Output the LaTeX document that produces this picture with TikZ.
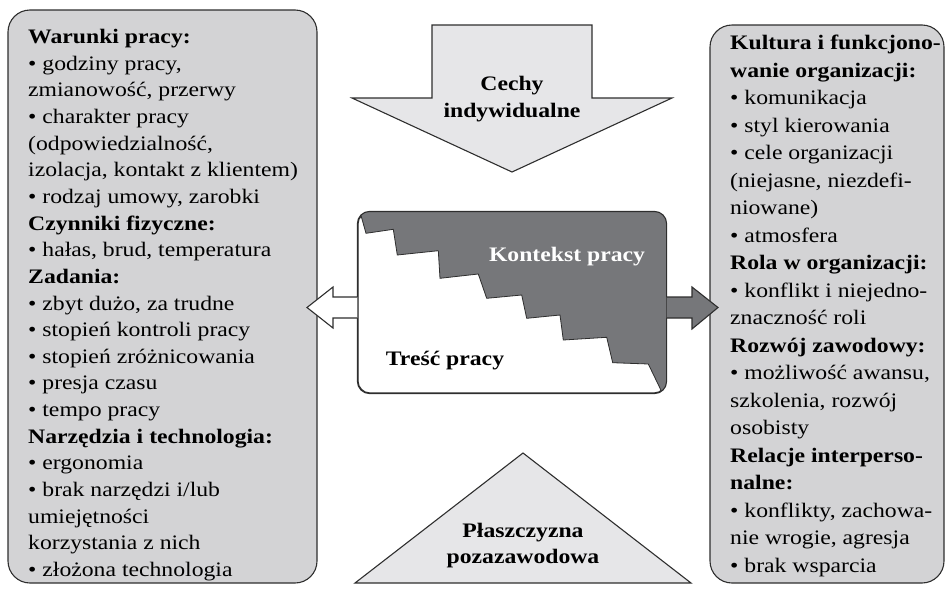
\documentclass[tikz,border=0pt]{standalone}
\usepackage{fontspec}
\setmainfont{Liberation Serif}[FakeStretch=1.15]
\definecolor{boxgray}{HTML}{D3D3D5}
\definecolor{palegray}{HTML}{E6E6E8}
\definecolor{darkstep}{HTML}{76777A}
\definecolor{linegray}{HTML}{2E2E2E}
\newcommand\diagfont{\fontsize{20.6}{26.4}\selectfont}
\newcommand\leftlistfont{\fontsize{20.6}{26.65}\selectfont}
\newcommand\rightlistfont{\fontsize{20.6}{27.5}\selectfont}
\begin{document}
\begin{tikzpicture}[x=1pt,y=-1pt,
  outline/.style={draw=linegray, line width=1.1pt, line join=miter},
  sidebox/.style={outline, fill=boxgray, rounded corners=22pt, inner sep=0pt},
  listtext/.style={anchor=north west, inner sep=0pt, align=left},
  title/.style={inner sep=0pt, align=center, font=\diagfont\bfseries}]
\useasboundingbox (0,0) rectangle (950,592);

% side panels
\node[sidebox, minimum width=309pt, minimum height=573pt] (leftbox) at (162.5,296.5) {};
\node[sidebox, minimum width=234pt, minimum height=558pt] (rightbox) at (827,304) {};

% downward arrow: individual traits
\filldraw[outline, fill=palegray] (432,25) -- (592,25) -- (592,98) -- (672,98)
  -- (512,172) -- (352,98) -- (432,98) -- cycle;
\node[title, anchor=north] (indiv) at (512,76.5) {Cechy\\indywidualne};

% triangle: life outside work
\filldraw[outline, fill=palegray] (523,453) -- (691,583) -- (355,583) -- cycle;
\node[title, anchor=north] (outside) at (523,523) {Płaszczyzna\\pozazawodowa};

% central box with the stepped boundary between content and context
\node[outline, fill=white, rounded corners=12pt, inner sep=0pt,
      minimum width=308pt, minimum height=181pt] (work) at (512,302.5) {};
\begin{scope}
  \clip[rounded corners=12pt] (work.north west) rectangle (work.south east);
  \fill[darkstep] (360,212) -- (366,233.3) -- (393.3,229.3) -- (397.3,255)
    -- (438.3,250.7) -- (440,278.3) -- (478.3,274) -- (486.7,298.3)
    -- (521.7,295) -- (526.7,318.3) -- (560,315) -- (563.3,340)
    -- (606.7,337.3) -- (612.7,362.7) -- (648.3,364) -- (661.7,391.7)
    -- (672,402) -- (672,205) -- (360,205) -- cycle;
  \draw[linegray, line width=0.8pt] (360,212) -- (366,233.3) -- (393.3,229.3) -- (397.3,255)
    -- (438.3,250.7) -- (440,278.3) -- (478.3,274) -- (486.7,298.3)
    -- (521.7,295) -- (526.7,318.3) -- (560,315) -- (563.3,340)
    -- (606.7,337.3) -- (612.7,362.7) -- (648.3,364) -- (661.7,391.7) -- (672,402);
\end{scope}
\draw[outline, rounded corners=12pt] (work.north west) rectangle (work.south east);
\node[title, anchor=base, text=white] (context) at (567,261.7) {Kontekst pracy};
\node[title, anchor=base] (content) at (445,365) {Treść pracy};

% arrows from the central box to the side panels
\filldraw[outline, fill=white] (work.west |- 0,297) -- (333,297) -- (333,287)
  -- (307,307.5) -- (333,328) -- (333,318) -- (work.west |- 0,318);
\filldraw[outline, fill=darkstep] (work.east |- 0,297) -- (692,297) -- (692,287)
  -- (718,307.5) -- (692,329) -- (692,318) -- (work.east |- 0,318);

% panel texts
\node[listtext, font=\leftlistfont] (lefttext) at (28,29) {%
\textbf{Warunki pracy:}\\
\textbullet\ godziny pracy,\\
zmianowość, przerwy\\
\textbullet\ charakter pracy\\
(odpowiedzialność,\\
izolacja, kontakt z klientem)\\
\textbullet\ rodzaj umowy, zarobki\\
\textbf{Czynniki fizyczne:}\\
\textbullet\ hałas, brud, temperatura\\
\textbf{Zadania:}\\
\textbullet\ zbyt dużo, za trudne\\
\textbullet\ stopień kontroli pracy\\
\textbullet\ stopień zróżnicowania\\
\textbullet\ presja czasu\\
\textbullet\ tempo pracy\\
\textbf{Narzędzia i technologia:}\\
\textbullet\ ergonomia\\
\textbullet\ brak narzędzi i/lub\\
umiejętności\\
korzystania z nich\\
\textbullet\ złożona technologia};

\node[listtext, font=\rightlistfont] (righttext) at (730,35) {%
\textbf{Kultura i funkcjono-}\\
\textbf{wanie organizacji:}\\
\textbullet\ komunikacja\\
\textbullet\ styl kierowania\\
\textbullet\ cele organizacji\\
(niejasne, niezdefi-\\
niowane)\\
\textbullet\ atmosfera\\
\textbf{Rola w organizacji:}\\
\textbullet\ konflikt i niejedno-\\
znaczność roli\\
\textbf{Rozwój zawodowy:}\\
\textbullet\ możliwość awansu,\\
szkolenia, rozwój\\
osobisty\\
\textbf{Relacje interperso-}\\
\textbf{nalne:}\\
\textbullet\ konflikty, zachowa-\\
nie wrogie, agresja\\
\textbullet\ brak wsparcia};
\end{tikzpicture}
\end{document}
